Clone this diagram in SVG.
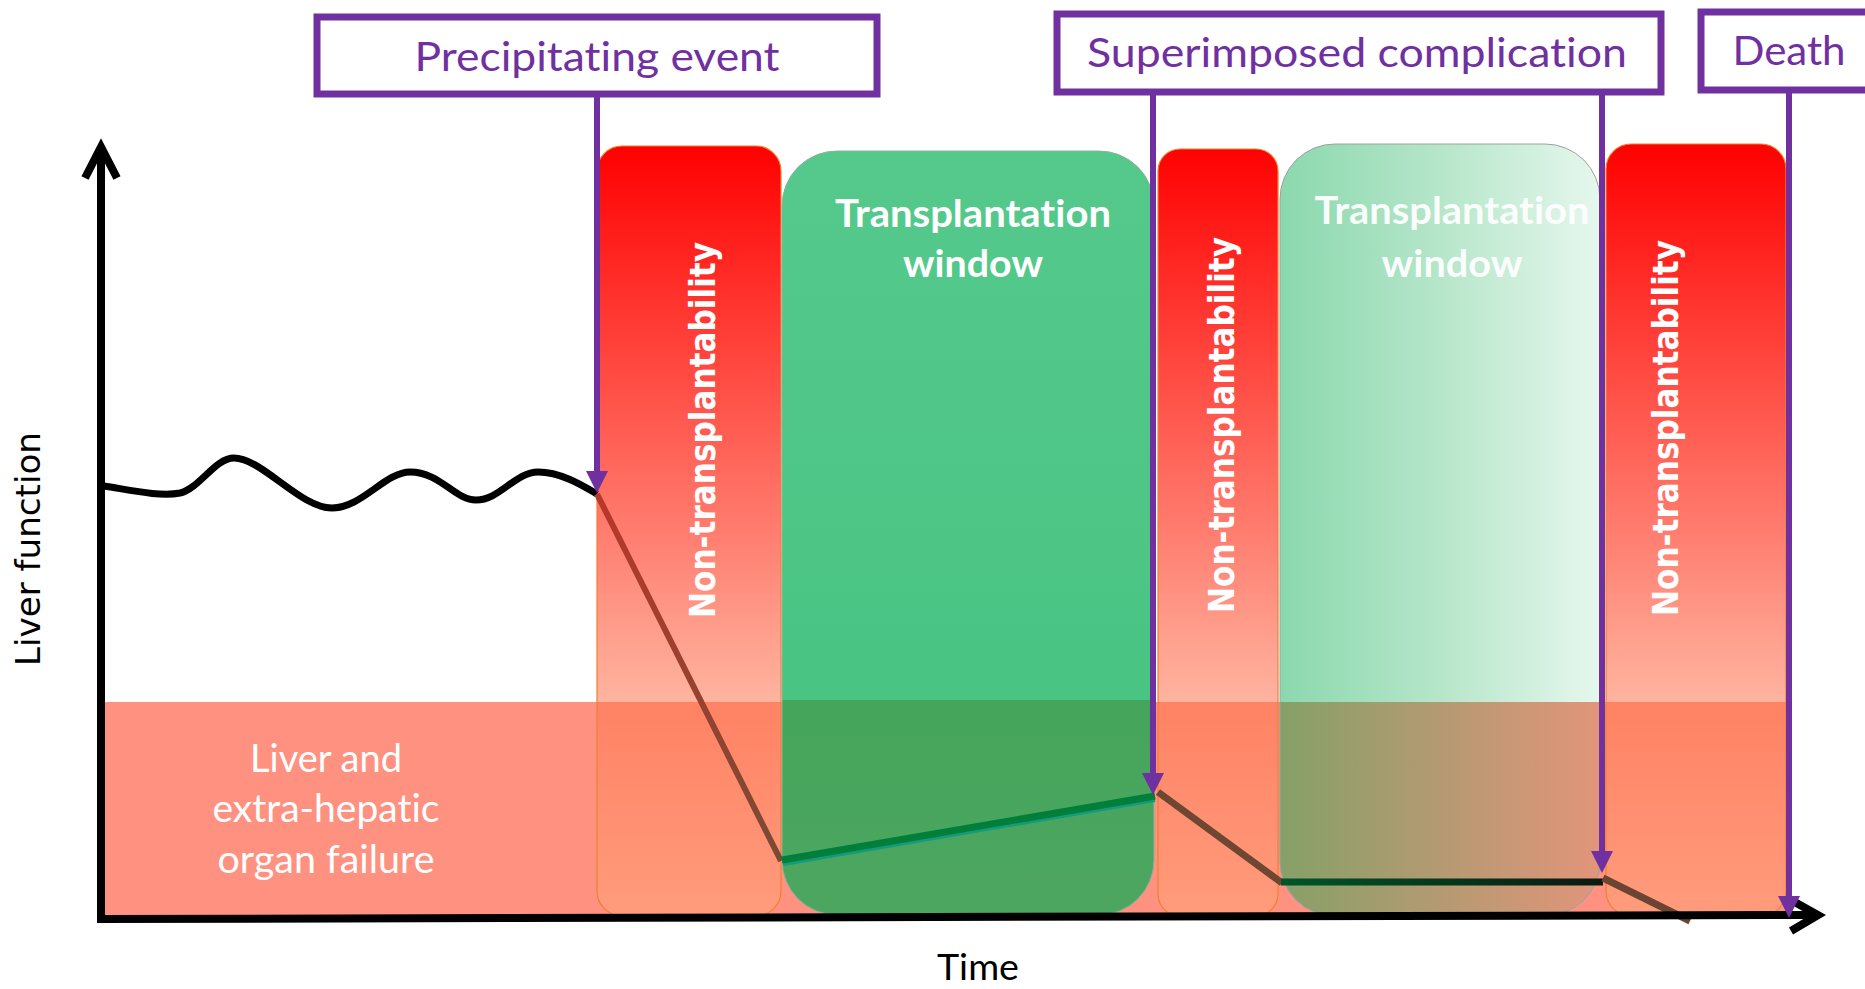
<svg xmlns="http://www.w3.org/2000/svg" width="1865" height="989" viewBox="0 0 1865 989">
<style>
text{font-variant-ligatures:none;font-feature-settings:"liga" 0,"clig" 0}
.box{fill:#fff;stroke:#7030A0;stroke-width:7}
.lbl{font-family:Lato,"Liberation Sans",sans-serif;fill:#7030A0;font-size:40px;text-anchor:middle}
.conn{stroke:#7030A0;stroke-width:6;fill:none;marker-end:url(#ah)}
.col{fill:url(#redg);stroke:#F08030;stroke-width:1.2}
.vt{font-family:"DejaVu Sans",Verdana,sans-serif;font-weight:bold;font-size:35px;fill:#fff;text-anchor:middle}
.tw{font-family:Lato,"Liberation Sans",sans-serif;font-weight:bold;font-size:38px;fill:#fff;text-anchor:middle}
.wt{font-family:Lato,"Liberation Sans",sans-serif;font-size:38px;fill:#fff;text-anchor:middle}
.ax{stroke:#000;stroke-width:8;fill:none}
</style>
<defs>
<marker id="ah" markerUnits="userSpaceOnUse" markerWidth="22" markerHeight="22" viewBox="0 0 22 22" refX="1" refY="11" orient="auto">
<path d="M0,0 L22,11 L0,22 z" fill="#7030A0"/>
</marker>
<linearGradient id="redg" gradientUnits="userSpaceOnUse" x1="0" y1="143" x2="0" y2="918">
<stop offset="0" stop-color="#FF0000"/>
<stop offset="0.7213" stop-color="#FFB4A0"/>
<stop offset="0.7213" stop-color="#FF8264"/>
<stop offset="1" stop-color="#FF9C7C"/>
</linearGradient>
<linearGradient id="g1" gradientUnits="userSpaceOnUse" x1="0" y1="151" x2="0" y2="916">
<stop offset="0" stop-color="#55C98C"/>
<stop offset="0.7177" stop-color="#49C483"/>
<stop offset="0.7177" stop-color="#45A55B"/>
<stop offset="1" stop-color="#4DA660"/>
</linearGradient>
<linearGradient id="g2u" gradientUnits="userSpaceOnUse" x1="1280" y1="0" x2="1600" y2="0">
<stop offset="0" stop-color="#8BD8AE"/>
<stop offset="0.5" stop-color="#B6E6CA"/>
<stop offset="1" stop-color="#E6F7ED"/>
</linearGradient>
<linearGradient id="g2l" gradientUnits="userSpaceOnUse" x1="1280" y1="0" x2="1600" y2="0">
<stop offset="0" stop-color="#86A068"/>
<stop offset="0.5" stop-color="#B49A72"/>
<stop offset="1" stop-color="#E2957A"/>
</linearGradient>
<linearGradient id="br1" gradientUnits="userSpaceOnUse" x1="597" y1="494" x2="781" y2="861">
<stop offset="0" stop-color="#B8382A"/>
<stop offset="1" stop-color="#7A4A35"/>
</linearGradient>
<linearGradient id="dk" gradientUnits="userSpaceOnUse" x1="1281" y1="0" x2="1603" y2="0">
<stop offset="0" stop-color="#00552A"/>
<stop offset="1" stop-color="#0C1A10"/>
</linearGradient>
<clipPath id="bandClip"><rect x="0" y="702" width="1865" height="300"/></clipPath>
</defs>

<g id="failure-band">
<rect x="104" y="702" width="1682" height="214" fill="#FF9180"/>
<text class="wt" x="326" y="772" textLength="152" lengthAdjust="spacingAndGlyphs">Liver and</text>
<text class="wt" x="326" y="822" textLength="227" lengthAdjust="spacingAndGlyphs">extra-hepatic</text>
<text class="wt" x="326" y="873" textLength="217" lengthAdjust="spacingAndGlyphs">organ failure</text>
</g>

<g id="nontx1">
<rect class="col" x="597" y="146" width="184" height="770" rx="25"/>
<text class="vt" transform="translate(715,430) rotate(-90)" textLength="376" lengthAdjust="spacingAndGlyphs">Non-transplantability</text>
</g>
<g id="window1">
<rect x="782" y="151" width="372" height="764" rx="55" fill="url(#g1)" stroke="#8FB0A0" stroke-width="1"/>
<text class="tw" x="973" y="227" textLength="276" lengthAdjust="spacingAndGlyphs">Transplantation</text>
<text class="tw" x="973" y="277" textLength="140" lengthAdjust="spacingAndGlyphs">window</text>
</g>
<g id="nontx2">
<rect class="col" x="1158" y="149" width="120" height="767" rx="22"/>
<text class="vt" transform="translate(1234,425) rotate(-90)" textLength="376" lengthAdjust="spacingAndGlyphs">Non-transplantability</text>
</g>
<g id="window2">
<rect x="1280" y="144" width="320" height="772" rx="55" fill="url(#g2u)" stroke="#A0A0A0" stroke-width="1"/>
<rect x="1280" y="144" width="320" height="772" rx="55" fill="url(#g2l)" stroke="#A0A0A0" stroke-width="1" clip-path="url(#bandClip)"/>
<text class="tw" x="1452" y="224" textLength="275" lengthAdjust="spacingAndGlyphs" fill-opacity="0.95">Transplantation</text>
<text class="tw" x="1452" y="277" textLength="141" lengthAdjust="spacingAndGlyphs" fill-opacity="0.95">window</text>
</g>
<g id="nontx3">
<rect class="col" x="1606" y="144" width="180" height="772" rx="25"/>
<text class="vt" transform="translate(1678,428) rotate(-90)" textLength="376" lengthAdjust="spacingAndGlyphs">Non-transplantability</text>
</g>

<g id="liver-curve" fill="none" stroke-linecap="butt" stroke-linejoin="round">
<path d="M104,486 C130,490 160,497 180,493 C200,488 215,458 234,458 C262,458 300,508 332,508 C362,508 385,472 410,472 C440,472 455,500 476,500 C500,500 515,472 538,472 C562,472 585,487 597,494" stroke="#000" stroke-width="7"/>
<line x1="597" y1="494" x2="781" y2="861" stroke="url(#br1)" stroke-width="6"/>
<line x1="783" y1="864" x2="1155" y2="800" stroke="#149A7C" stroke-width="4"/>
<line x1="782" y1="860" x2="1155" y2="796" stroke="#007F3A" stroke-width="7"/>
<line x1="1158" y1="792" x2="1282" y2="883" stroke="#6F4632" stroke-width="7"/>
<line x1="1281" y1="882" x2="1603" y2="882" stroke="url(#dk)" stroke-width="7"/>
<line x1="1603" y1="878" x2="1690" y2="921" stroke="#6B4532" stroke-width="7"/>
</g>

<g id="axes">
<line class="ax" x1="101" y1="148" x2="101" y2="923"/>
<path class="ax" d="M85,178 L101,147 L117,178"/>
<line class="ax" x1="97" y1="919" x2="1816" y2="915"/>
<path class="ax" d="M1791,900 L1818,915 L1791,931"/>
<text font-family="'DejaVu Sans',Verdana,sans-serif" font-size="33" text-anchor="middle" transform="translate(40,549) rotate(-90)" textLength="234" lengthAdjust="spacingAndGlyphs">Liver function</text>
<text font-family="Lato,'Liberation Sans',sans-serif" font-size="36" x="978" y="980" text-anchor="middle" textLength="82" lengthAdjust="spacingAndGlyphs">Time</text>
</g>

<g id="precipitating-event">
<rect class="box" x="317" y="17" width="560" height="77"/>
<text class="lbl" x="597" y="71" textLength="365" lengthAdjust="spacingAndGlyphs">Precipitating event</text>
</g>
<g id="superimposed-complication">
<rect class="box" x="1057" y="14" width="604" height="78"/>
<text class="lbl" x="1357" y="67" textLength="540" lengthAdjust="spacingAndGlyphs">Superimposed complication</text>
</g>
<g id="death">
<rect class="box" x="1701" y="12" width="220" height="78"/>
<text class="lbl" x="1789" y="65" textLength="113" lengthAdjust="spacingAndGlyphs">Death</text>
</g>

<g id="connectors">
<line class="conn" x1="597" y1="97" x2="597" y2="472"/>
<line class="conn" x1="1153" y1="95" x2="1153" y2="774"/>
<line class="conn" x1="1602" y1="95" x2="1602" y2="852"/>
<line class="conn" x1="1789" y1="93" x2="1789" y2="897"/>
</g>
</svg>
